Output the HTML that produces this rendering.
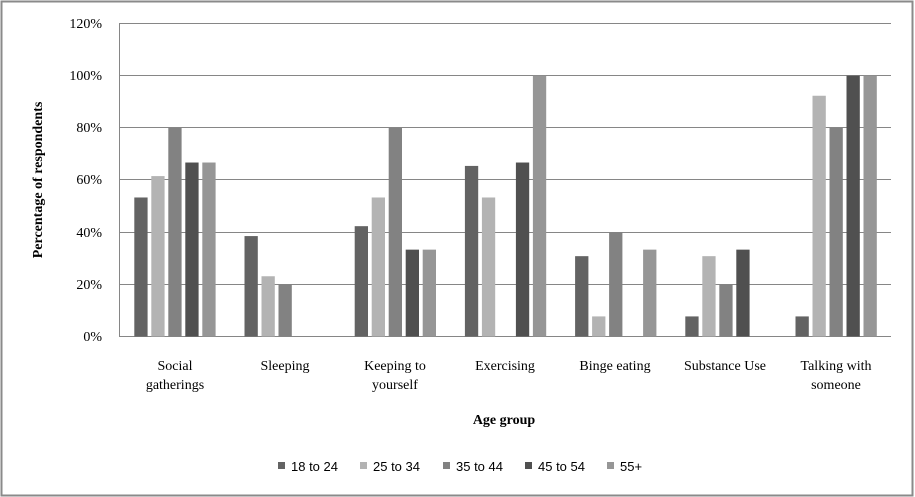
<!DOCTYPE html>
<html><head><meta charset="utf-8"><style>
html,body{margin:0;padding:0;background:#fff}
svg{display:block}
.s{font-family:"Liberation Serif",serif;font-size:14px;fill:#000}
.l{font-family:"Liberation Sans",sans-serif;font-size:13px;fill:#000}
</style></head><body>
<svg width="915" height="497" xmlns="http://www.w3.org/2000/svg">
<rect x="1.5" y="1.5" width="911" height="494" fill="#fff" stroke="#8a8a8a" stroke-width="2"/>
<g stroke="#868686" stroke-width="1">
<line x1="119" y1="23.5" x2="891" y2="23.5"/>
<line x1="119" y1="75.5" x2="891" y2="75.5"/>
<line x1="119" y1="127.5" x2="891" y2="127.5"/>
<line x1="119" y1="179.5" x2="891" y2="179.5"/>
<line x1="119" y1="232.5" x2="891" y2="232.5"/>
<line x1="119" y1="284.5" x2="891" y2="284.5"/>
<line x1="119" y1="336.5" x2="891" y2="336.5"/>
<line x1="119.5" y1="23" x2="119.5" y2="337"/>
</g>
<g class="s" text-anchor="end">
<text x="102" y="28">120%</text><text x="102" y="80">100%</text><text x="102" y="132">80%</text>
<text x="102" y="184">60%</text><text x="102" y="237">40%</text><text x="102" y="289">20%</text><text x="102" y="341">0%</text>
</g>
<text class="s" transform="translate(42,180) rotate(-90)" text-anchor="middle" font-weight="bold">Percentage of respondents</text>
<g id="bars"></g>
<g class="s" text-anchor="middle">
<text x="175" y="370">Social</text><text x="175" y="389">gatherings</text>
<text x="285" y="370">Sleeping</text>
<text x="395" y="370">Keeping to</text><text x="395" y="389">yourself</text>
<text x="505" y="370">Exercising</text>
<text x="615" y="370">Binge eating</text>
<text x="725" y="370">Substance Use</text>
<text x="836" y="370">Talking with</text><text x="836" y="389">someone</text>
<text x="504" y="424" font-weight="bold">Age group</text>
</g>
<g class="l">
<rect x="278" y="462" width="7" height="7" fill="#636363"/><text x="291" y="471">18 to 24</text>
<rect x="360" y="462" width="7" height="7" fill="#b3b3b3"/><text x="373" y="471">25 to 34</text>
<rect x="443" y="462" width="7" height="7" fill="#828282"/><text x="456" y="471">35 to 44</text>
<rect x="525" y="462" width="7" height="7" fill="#505050"/><text x="538" y="471">45 to 54</text>
<rect x="607" y="462" width="7" height="7" fill="#969696"/><text x="620" y="471">55+</text>
</g>
<g>
<!-- bars generated inline -->
</g>
<script>
var d=[[53.3,61.5,80,66.7,66.7],[38.5,23.1,20,0,0],[42.3,53.3,80,33.3,33.3],[65.4,53.3,0,66.7,100],[30.8,7.7,40,0,33.3],[7.7,30.8,20,33.3,0],[7.7,92.3,80,100,100]];
var c=["#636363","#b3b3b3","#828282","#505050","#969696"];
var g=document.getElementById("bars"),ns="http://www.w3.org/2000/svg";
for(var i=0;i<7;i++)for(var j=0;j<5;j++){var v=d[i][j];if(!v)continue;var h=v*313/120;
var r=document.createElementNS(ns,"rect");var x=134.3+i*110.2+j*17;
r.setAttribute("x",x);r.setAttribute("width",13.3);r.setAttribute("y",336.5-h);r.setAttribute("height",h);r.setAttribute("fill",c[j]);g.appendChild(r);}
</script>
</svg>
</body></html>
